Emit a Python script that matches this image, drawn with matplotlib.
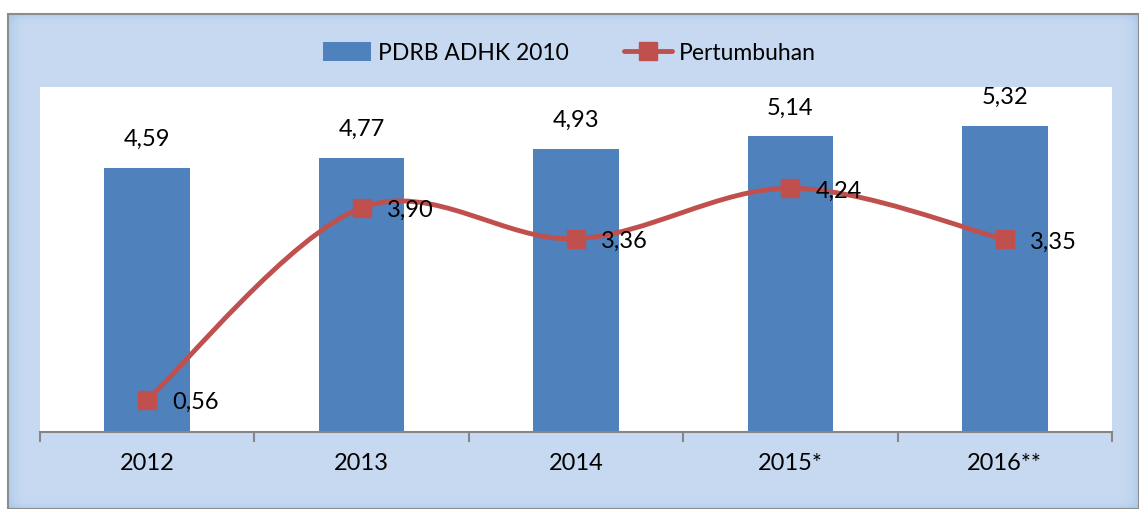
import numpy as np
import matplotlib.pyplot as plt
from matplotlib.patches import Rectangle, PathPatch
from matplotlib.path import Path

plt.rcParams['font.family'] = ['Lato', 'DejaVu Sans']

# data
tahun = ['2012', '2013', '2014', '2015*', '2016**']
pdrb = [4.59, 4.77, 4.93, 5.14, 5.32]
pertumbuhan = [0.56, 3.90, 3.36, 4.24, 3.35]

bar_color = '#4F81BD'
line_color = '#C0504D'

W, H = 1139, 509
fig = plt.figure(figsize=(W / 100, H / 100), dpi=100)
fig.patch.set_facecolor('white')

# light blue chart panel
px0, ptop = 8, 14
fig.patches.append(Rectangle((px0 / W, 0), 1 - px0 / W, 1 - ptop / H, transform=fig.transFigure,
                             facecolor='#C6D9F1', edgecolor='none', zorder=-6))
# soft inner shading at the panel edges
for k in range(18):
    a = 0.35 * (1 - k / 18) ** 2
    fig.patches.append(Rectangle(((px0 + k) / W, 0), 1 / W, 1 - ptop / H, transform=fig.transFigure,
                                 facecolor='#8DB3E2', alpha=a, edgecolor='none', zorder=-5))
    fig.patches.append(Rectangle(((W - 1 - k) / W, 0), 1 / W, 1 - ptop / H, transform=fig.transFigure,
                                 facecolor='#8DB3E2', alpha=a, edgecolor='none', zorder=-5))
for k in range(10):
    a = 0.3 * (1 - k / 10) ** 2
    fig.patches.append(Rectangle((px0 / W, 1 - (ptop + k + 1) / H), 1 - px0 / W, 1 / H,
                                 transform=fig.transFigure, facecolor='#8DB3E2', alpha=a,
                                 edgecolor='none', zorder=-5))
    fig.patches.append(Rectangle((px0 / W, k / H), 1 - px0 / W, 1 / H,
                                 transform=fig.transFigure, facecolor='#8DB3E2', alpha=a,
                                 edgecolor='none', zorder=-5))
fig.patches.append(Rectangle((px0 / W, 0), 1 - px0 / W, 1 - ptop / H, transform=fig.transFigure,
                             facecolor='none', edgecolor='#8C8C8C', linewidth=1.5, zorder=-4))

ax = fig.add_axes([40 / W, 1 - 432 / H, (1112 - 40) / W, (432 - 87) / H])
ax.set_facecolor('white')

x = np.arange(len(tahun))
bars = ax.bar(x, pdrb, width=0.4, color=bar_color, zorder=2, label='PDRB ADHK 2010')

for xi, v in zip(x, pdrb):
    ax.annotate(f'{v:.2f}'.replace('.', ','), (xi, v), xytext=(0, 13), textcoords='offset points',
                ha='center', va='bottom', fontsize=17)

# smoothed line (bezier through the points, like a spreadsheet "smoothed line")
pts = np.column_stack([x, pertumbuhan]).astype(float)
verts = [pts[0]]
codes = [Path.MOVETO]
n = len(pts)
for i in range(n - 1):
    p0 = pts[i - 1] if i > 0 else pts[i]
    p1 = pts[i]
    p2 = pts[i + 1]
    p3 = pts[i + 2] if i + 2 < n else pts[i + 1]
    c1 = p1 + (p2 - p0) / 6
    c2 = p2 - (p3 - p1) / 6
    verts += [c1, c2, p2]
    codes += [Path.CURVE4] * 3
ax.add_patch(PathPatch(Path(verts, codes), facecolor='none', edgecolor=line_color,
                       linewidth=3.5, zorder=3, capstyle='round'))
ax.plot(x, pertumbuhan, linestyle='none', marker='s', markersize=13, color=line_color, zorder=4)
# legend proxy
line_h, = ax.plot([], [], color=line_color, linewidth=3.5, marker='s', markersize=13,
                  label='Pertumbuhan', solid_capstyle='round')

for xi, v in zip(x, pertumbuhan):
    ax.annotate(f'{v:.2f}'.replace('.', ','), (xi, v), xytext=(18, -2), textcoords='offset points',
                ha='left', va='center', fontsize=17)

ax.set_xlim(-0.5, len(tahun) - 0.5)
ax.set_ylim(0, 6)
ax.set_yticks([])
for s in ['top', 'right', 'left']:
    ax.spines[s].set_visible(False)
ax.spines['bottom'].set_color('#868686')
ax.spines['bottom'].set_linewidth(1.5)

ax.set_xticks(np.arange(-0.5, len(tahun), 1.0))
ax.set_xticklabels([])
ax.tick_params(axis='x', which='major', length=7, width=1.5, color='#868686')
ax.set_xticks(x, minor=True)
ax.set_xticklabels(tahun, minor=True, fontsize=17)
ax.tick_params(axis='x', which='minor', length=0, pad=15)

leg = ax.legend([bars, line_h], ['PDRB ADHK 2010', 'Pertumbuhan'], loc='center',
                bbox_to_anchor=(0.5, 1 - 53 / H), bbox_transform=fig.transFigure,
                ncol=2, frameon=False, fontsize=16.5, handlelength=2.1, handleheight=0.9,
                columnspacing=2.4, handletextpad=0.3)

fig.savefig('out.png', dpi=100, facecolor=fig.get_facecolor())
